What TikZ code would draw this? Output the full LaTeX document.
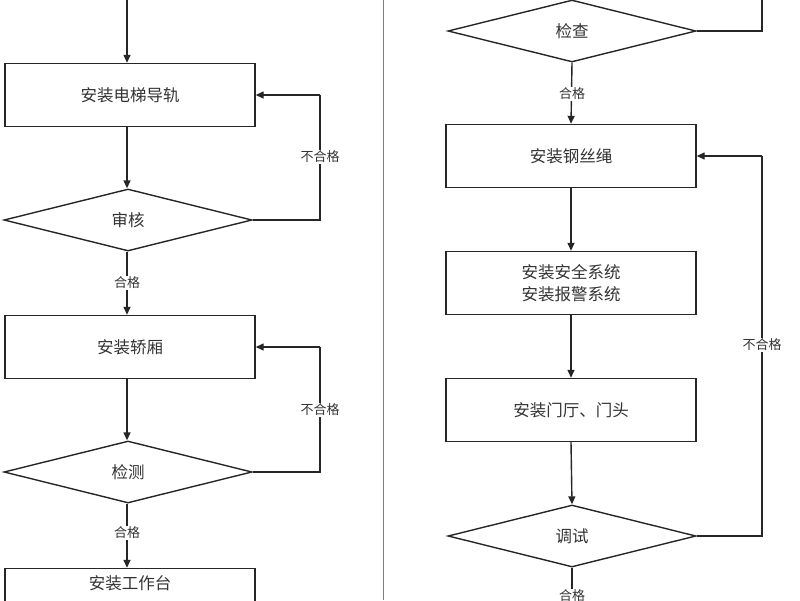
\documentclass[tikz,border=0pt]{standalone}
\usepackage{fontspec}
\setmainfont{Noto Sans CJK SC}
\usetikzlibrary{shapes.geometric,arrows.meta}
\begin{document}
\begin{tikzpicture}[x=1pt,y=-1pt,
  box/.style={draw=black!85,line width=1.4pt,minimum width=250pt,minimum height=63pt,inner sep=0pt,font=\fontsize{16.5}{22}\selectfont,text=black!80,align=center},
  dia/.style={draw=black!85,line width=1.4pt,diamond,aspect=4,minimum width=248pt,minimum height=62pt,inner sep=0pt,font=\fontsize{16.5}{20}\selectfont,text=black!80},
  lab/.style={fill=white,inner sep=1pt,font=\fontsize{13}{15}\selectfont,text=black!80},
  ar/.style={line width=1.4pt,draw=black!85,-{Triangle[length=8pt,width=7pt]}},
  ln/.style={line width=1.4pt,draw=black!85}]
\useasboundingbox (0,0) rectangle (800,600);
% separator
\draw[black!50,line width=1pt] (383,0) -- (383,600);
% left column
\node[box] (b0) at (130,-32) {};
\node[box] (b1) at (130,95) {安装电梯导轨};
\node[dia] (d1) at (128,220) {审核};
\node[box] (b2) at (130,347) {安装轿厢};
\node[dia] (d2) at (128,472) {检测};
\node[box] (b3) at (130,600) {};
\node[font=\fontsize{16.5}{20}\selectfont,text=black!80] (t3) at (130,583) {安装工作台};
\draw[ar] (b0.south -| 127,0) -- (b1.north -| 127,0);
\draw[ar] (b1.south -| 127,0) -- (d1.north -| 127,0);
\draw[ln] (d1.east) -- (320,220) coordinate (c1) -- (320,95) coordinate (c2);
\draw[ar] (c2) -- (b1.east);
\node[lab] (n1) at (320,157) {不合格};
\draw[ar] (d1.south -| 127,0) -- (b2.north -| 127,0);
\node[lab] (h1) at (127,283) {合格};
\draw[ar] (b2.south -| 127,0) -- (d2.north -| 127,0);
\draw[ln] (d2.east) -- (320,472) coordinate (c3) -- (320,347) coordinate (c4);
\draw[ar] (c4) -- (b2.east);
\node[lab] (n2) at (320,410) {不合格};
\draw[ar] (d2.south -| 127,0) -- (b3.north -| 127,0);
\node[lab] (h2) at (127,533) {合格};
% right column
\node[dia] (d3) at (572,31) {检查};
\node[box] (r1) at (571,156) {安装钢丝绳};
\node[box] (r2) at (571,283) {安装安全系统\\安装报警系统};
\node[box] (r3) at (571,410) {安装门厅、门头};
\node[dia] (d4) at (572,536) {调试};
\coordinate (e0) at (572,620);
\draw[ln] (d3.east) -- (762,31) -- (762,-10);
\draw[ar] (d3.south) -- (r1.north);
\node[lab] (h3) at (572,94) {合格};
\draw[ar] (r1.south) -- (r2.north);
\draw[ar] (r2.south) -- (r3.north);
\draw[ar] (r3.south) -- (d4.north);
\draw[ln] (d4.east) -- (762,536) coordinate (c5) -- (762,156) coordinate (c6);
\draw[ar] (c6) -- (r1.east);
\node[lab] (n3) at (762,345) {不合格};
\draw[ar] (d4.south) -- (e0);
\node[lab] (h4) at (572,596) {合格};
\end{tikzpicture}
\end{document}
